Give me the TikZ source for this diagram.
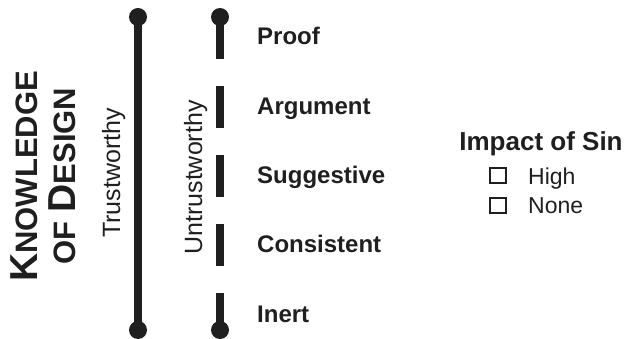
\documentclass[tikz,border=0pt]{standalone}
\usepackage{fontspec}
\setmainfont{Liberation Sans}
\begin{document}
\begin{tikzpicture}[x=1pt,y=-1pt]
\tikzset{
  dot/.style={circle,fill=black!88,inner sep=0pt,minimum size=18pt},
  bar/.style={line width=8pt,black!88},
  level/.style={anchor=base west,inner sep=0pt,text=black!88,font=\fontsize{24}{28}\selectfont\bfseries},
  side/.style={rotate=90,anchor=base,inner sep=0pt,text=black!88,font=\fontsize{25}{30}\selectfont},
  title/.style={rotate=90,anchor=base,inner sep=0pt,text=black!88,font=\fontsize{31}{33}\selectfont\bfseries},
  tick/.style={draw=black!88,line width=2pt,minimum width=16pt,minimum height=15pt,inner sep=0pt},
  choice/.style={anchor=base west,inner sep=0pt,text=black!88,font=\fontsize{23}{27}\selectfont}
}
\newcommand{\initial}[1]{{\fontsize{39}{41}\selectfont #1}}
\useasboundingbox (0,0) rectangle (631,339);
\node[dot] (t1) at (138,17) {};
\node[dot] (b1) at (138,330) {};
\node[dot] (t2) at (220,17) {};
\node[dot] (b2) at (220,330) {};
\draw[bar] (t1.center) -- (b1.center);
\draw[bar,dash pattern=on 42pt off 27pt] (t2.center) -- (b2.center);
\foreach \name [count=\i from 0] in {Proof,Argument,Suggestive,Consistent,Inert}
  \node[level] (l\i) at (257,{45+69.25*\i}) {\name};
\node[side] (trust) at (120,173) {Trustworthy};
\node[side] (untrust) at (202,177.5) {Untrustworthy};
\node[title] (know) at (37,176.5) {\initial{K}NOWLEDGE};
\node[title] (design) at (75,176) {OF \initial{D}ESIGN};
\node[level,anchor=base,font=\fontsize{26}{30}\selectfont\bfseries] (impact) at (541,150) {Impact of Sin};
\node[tick] (high) at (497.5,175.5) {};
\node[tick] (none) at (497.5,205) {};
\node[choice] (highlab) at (528,184) {High};
\node[choice] (nonelab) at (528,213) {None};
\end{tikzpicture}
\end{document}
